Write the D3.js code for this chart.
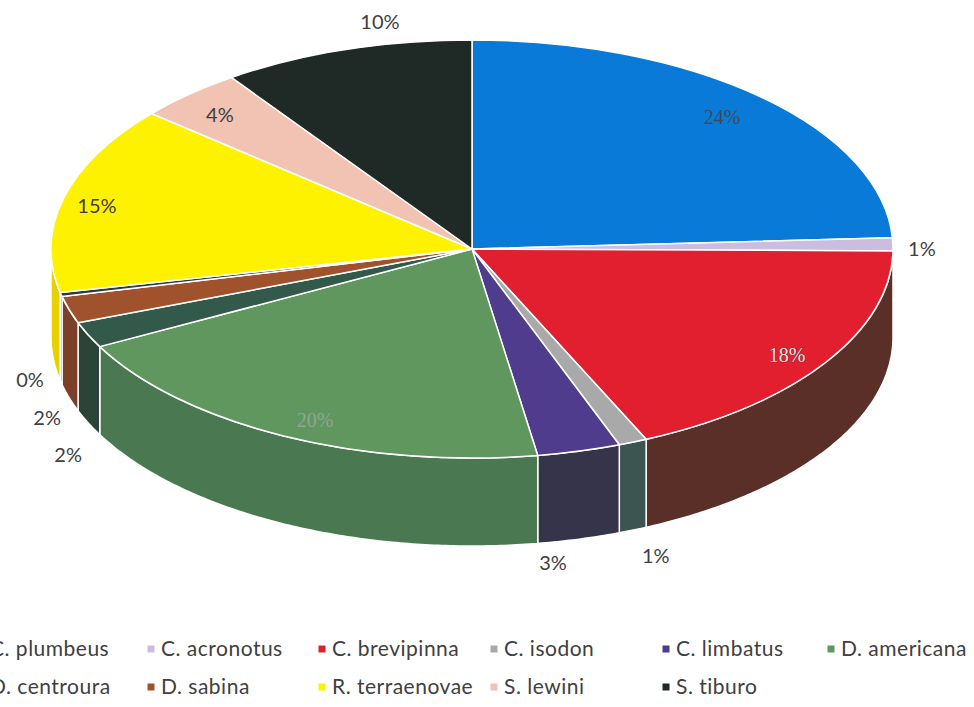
<!DOCTYPE html>
<html>
<head>
<meta charset="utf-8">
<script src="https://cdn.jsdelivr.net/npm/d3@7"></script>
<style>
  body { margin: 0; background: #fff; }
  svg { display: block; }
</style>
</head>
<body>
<svg id="chart" width="974" height="707"></svg>
<script>
// Species share of the catch (percent); the unnamed sliver is a trace category
const species = ["C. plumbeus", "C. acronotus", "C. brevipinna", "C. isodon", "C. limbatus",
                 "D. americana", "D. centroura", "D. sabina", "", "R. terraenovae",
                 "S. lewini", "S. tiburo"];
const shares = [24.2, 1.0, 18.1, 1.1, 3.2, 19.8, 2.0, 2.1, 0.3, 14.6, 4.1, 9.7];

// Face colours and the darker colours of the pie's rim
const topColors  = ["#0a7ad8", "#cbbde0", "#e21f2f", "#a9a9a9", "#4f3c8c", "#5f975f",
                    "#33594a", "#a0522d", "#2e3b3a", "#fff200", "#f2c2b2", "#1f2925"];
const sideColors = ["#064f8e", "#8f83a0", "#5a2f28", "#3d5550", "#36344b", "#4a7850",
                    "#2a4538", "#7b4027", "#243030", "#e8cf00", "#b08a80", "#151c19"];

// Label placement: inside the face or just outside the rim, with a small nudge
const labelPlacement = [
  { mode: "in",  dx: -2,  dy: 0 },
  { mode: "out", dx: 29,  dy: 5 },
  { mode: "in",  dx: 8,   dy: 7 },
  { mode: "out", dx: 23,  dy: 26 },
  { mode: "out", dx: -26, dy: 24 },
  { mode: "in",  dx: 7,   dy: 8 },
  { mode: "out", dx: -20, dy: 32 },
  { mode: "out", dx: -22, dy: 20 },
  { mode: "out", dx: -31, dy: -3 },
  { mode: "in",  dx: -20, dy: 2 },
  { mode: "in",  dx: -6,  dy: 1 },
  { mode: "out", dx: 34,  dy: -28 }
];
// Labels that sit on the saturated faces are printed in a different face
const labelInk = {
  0: { fill: "#3c4a5c", font: "Liberation Serif", stroke: "none" },
  2: { fill: "#f4e0e0", font: "Liberation Serif", stroke: "#5a2a2a" },
  5: { fill: "#93a593", font: "Liberation Serif", stroke: "none" }
};

// Legend grid columns (x of marker) and row centres
const legendColumns = [-20, 151, 322, 494, 666, 831];
const legendRows = [649, 687];

const svg = d3.select("#chart");
const cx = 472, cy = 249, rx = 421, ry = 209, depth = 88;

const total = d3.sum(shares);
const pie = d3.pie().sort(null).value(d => d).startAngle(0).endAngle(2 * Math.PI);
const slices = pie(shares).map((s, i) => ({ ...s, i }));

// Point on the elliptical rim at d3 angle a (clockwise from 12 o'clock)
const rim = (a, z = 0, f = 1) => [cx + rx * f * Math.sin(a), cy - ry * f * Math.cos(a) + z];

// Rim walls: only the front half (angles between 90° and 270°) is visible
const wallG = svg.append("g");
const frontStart = Math.PI / 2, frontEnd = 3 * Math.PI / 2;
slices.forEach(s => {
  const a0 = Math.max(s.startAngle, frontStart);
  const a1 = Math.min(s.endAngle, frontEnd);
  if (a1 <= a0) return;
  const n = Math.max(4, Math.ceil((a1 - a0) / 0.01));
  const angles = d3.range(n + 1).map(k => a0 + (a1 - a0) * k / n);
  const pts = angles.map(a => rim(a, 0)).concat(angles.slice().reverse().map(a => rim(a, depth)));
  wallG.append("path")
    .attr("d", d3.line()(pts) + "Z")
    .attr("fill", sideColors[s.i])
    .attr("stroke", "#fff")
    .attr("stroke-width", 1.5)
    .attr("stroke-linejoin", "round");
});

// Top faces: circular arcs squashed into the ellipse
const arc = d3.arc().innerRadius(0).outerRadius(rx);
svg.append("g")
  .attr("transform", `translate(${cx},${cy}) scale(1,${ry / rx})`)
  .selectAll("path")
  .data(slices)
  .join("path")
  .attr("d", arc)
  .attr("fill", d => topColors[d.i])
  .attr("stroke", "#fff")
  .attr("stroke-width", 1.5)
  .attr("vector-effect", "non-scaling-stroke")
  .attr("stroke-linejoin", "round");

// Percentage labels
const pct = d3.format(".0%");
const labelG = svg.append("g");
slices.forEach(s => {
  const p = labelPlacement[s.i];
  const mid = (s.startAngle + s.endAngle) / 2;
  let x, y;
  if (p.mode === "in") {
    [x, y] = rim(mid, 0, 0.87);
  } else {
    const front = Math.cos(mid) < 0;
    [x, y] = rim(mid, front ? depth : 0, 1);
  }
  const ink = labelInk[s.i] || { fill: "#404040", font: "Lato", stroke: "none" };
  labelG.append("text")
    .attr("x", x + p.dx)
    .attr("y", y + p.dy)
    .attr("dy", "0.35em")
    .attr("text-anchor", "middle")
    .attr("font-family", ink.font)
    .attr("font-size", 20)
    .attr("fill", ink.fill)
    .attr("stroke", ink.stroke)
    .attr("stroke-width", ink.stroke === "none" ? 0 : 0.7)
    .attr("paint-order", "stroke")
    .text(pct(s.value / total));
});

// Legend, six entries per row
const legendItems = species.map((name, i) => ({ name, i })).filter(d => d.name !== "");
const legendG = svg.append("g");
legendItems.forEach((d, k) => {
  const x = legendColumns[k % legendColumns.length];
  const y = legendRows[Math.floor(k / legendColumns.length)];
  legendG.append("rect")
    .attr("x", x - 3.5).attr("y", y - 3.5)
    .attr("width", 7).attr("height", 7)
    .attr("fill", topColors[d.i]);
  legendG.append("text")
    .attr("x", x + 10).attr("y", y)
    .attr("dy", "0.35em")
    .attr("font-family", "Lato")
    .attr("font-size", 21)
    .attr("letter-spacing", 0.5)
    .attr("fill", "#404040")
    .text(d.name);
});
</script>
</body>
</html>
